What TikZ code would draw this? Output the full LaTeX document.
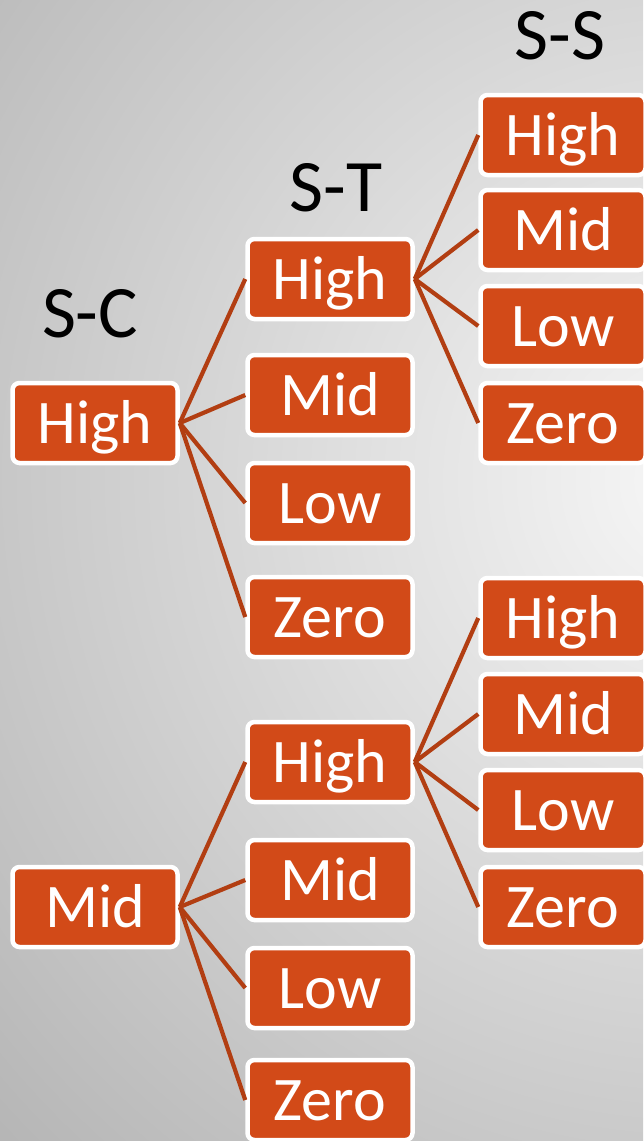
\documentclass[tikz,border=0pt]{standalone}
\usepackage{fontspec}
\setmainfont{Carlito}
\usetikzlibrary{positioning}

\definecolor{boxorange}{RGB}{210,74,24}
\definecolor{linkbrown}{RGB}{178,62,18}

\begin{document}
\begin{tikzpicture}
        [x=1pt,y=-1pt,
         level/.style={draw=white, line width=4.5pt, fill=boxorange, rounded corners=7pt,
           text=white, minimum width=165pt, minimum height=80pt, inner sep=0pt,
           font=\fontsize{62}{62}\selectfont, text height=40pt, text depth=0pt},
         head/.style={font=\fontsize{74}{74}\selectfont, text height=47pt, text depth=0pt},
         link/.style={draw=linkbrown, line width=4.2pt}]
        % backdrop
        \useasboundingbox (0,0) rectangle (643,1141);
        \begin{scope}
          \clip (0,0) rectangle (643,1141);
          \shade[inner color={rgb,255:red,247;green,247;blue,247},
                 outer color={rgb,255:red,128;green,128;blue,128}] (700,480) circle (1750);
        \end{scope}
        % column heads
        \node[head] (sc) at (90,314) {S-C};
        \node[head] (st) at (336,188) {S-T};
        \node[head] (ss) at (560,36) {S-S};
        % S-C
        \node[level] (c1) at (95,423) {High};
        \node[level] (c2) at (95,907) {Mid};
        % S-T
        \node[level] (t1) at (330,279) {High};
        \node[level] (t2) at (330,395) {Mid};
        \node[level] (t3) at (330,503) {Low};
        \node[level] (t4) at (330,617) {Zero};
        \node[level] (t5) at (330,762) {High};
        \node[level] (t6) at (330,880) {Mid};
        \node[level] (t7) at (330,988) {Low};
        \node[level] (t8) at (330,1100) {Zero};
        % S-S
        \node[level] (s1) at (563,135) {High};
        \node[level] (s2) at (563,230) {Mid};
        \node[level] (s3) at (563,326) {Low};
        \node[level] (s4) at (563,423) {Zero};
        \node[level] (s5) at (563,618) {High};
        \node[level] (s6) at (563,714) {Mid};
        \node[level] (s7) at (563,810) {Low};
        \node[level] (s8) at (563,907) {Zero};
        % links
        \foreach \i in {1,2,3,4} \draw[link] (c1.east) -- (t\i.west);
        \foreach \i in {5,6,7,8} \draw[link] (c2.east) -- (t\i.west);
        \foreach \i in {1,2,3,4} \draw[link] (t1.east) -- (s\i.west);
        \foreach \i in {5,6,7,8} \draw[link] (t5.east) -- (s\i.west);
\end{tikzpicture}
\end{document}
